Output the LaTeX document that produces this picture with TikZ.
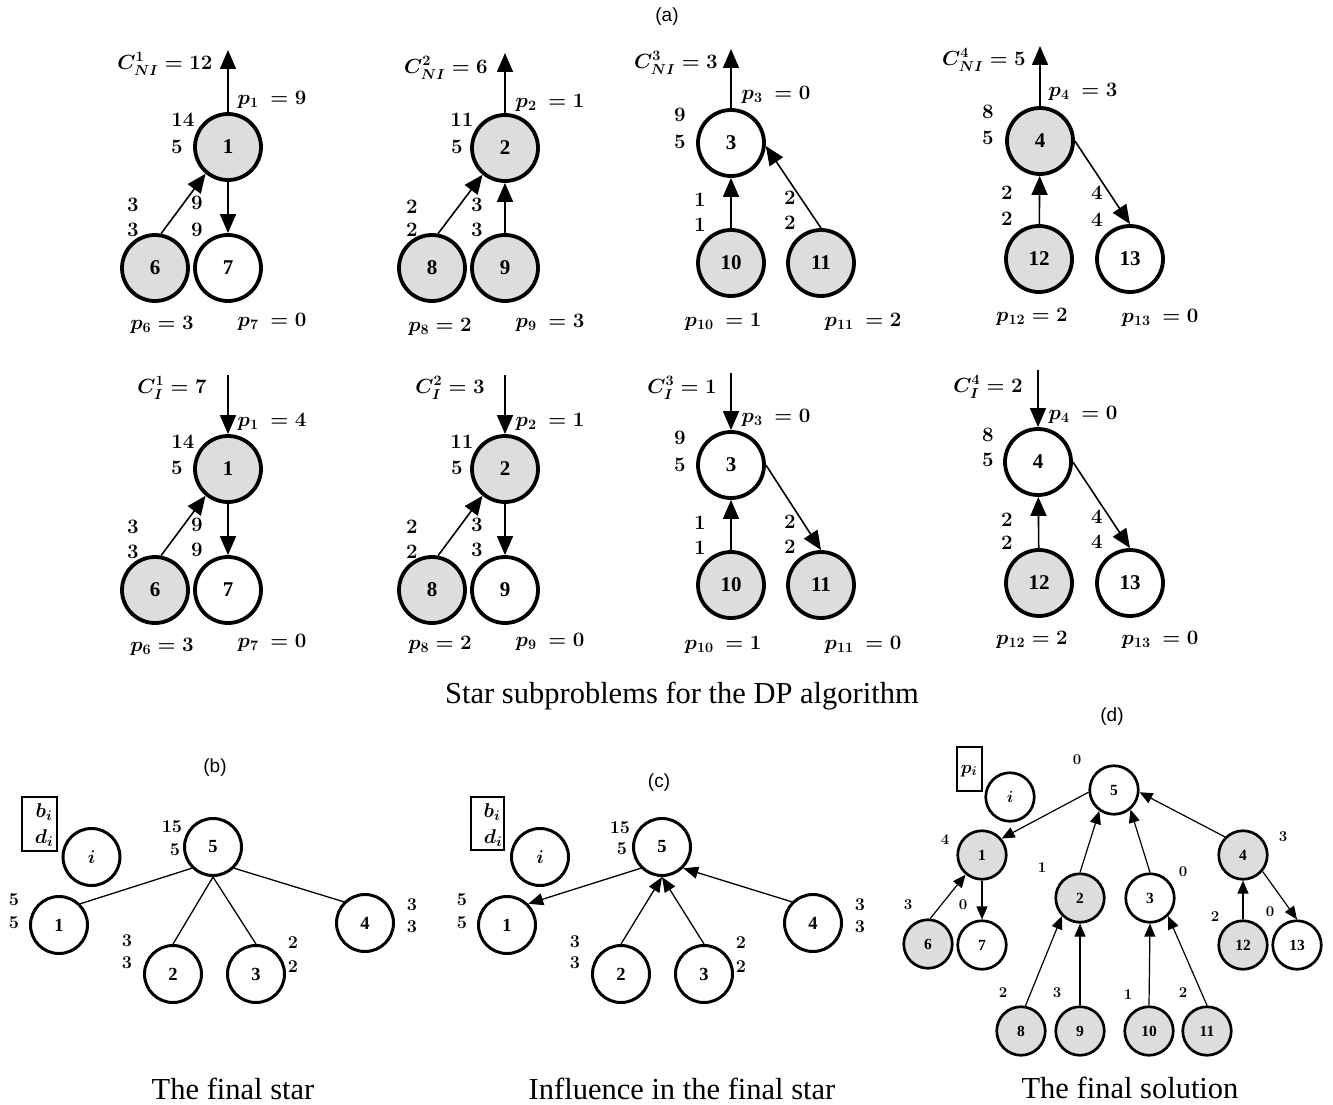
\RequirePackage{fix-cm}
\documentclass[tikz,border=0pt]{standalone}
\usepackage{amsmath,bm}
\usepackage[no-math]{fontspec}
\setmainfont{Liberation Serif}
\newfontfamily\arialf{Liberation Sans}
\usetikzlibrary{arrows.meta}
\definecolor{ngray}{RGB}{220,221,223}
\tikzset{
  ta/.style={circle,draw,line width=3.8pt,minimum size=66pt,inner sep=0pt,font=\bfseries\fontsize{21}{21}\selectfont},
  tg/.style={ta,fill=ngray},
  lb/.style={inner sep=0pt,font=\boldmath\fontsize{20.5}{20.5}\selectfont},
  ea/.style={line width=1.6pt,-{Triangle[length=19pt,width=16pt]}},
  bn/.style={circle,draw,line width=3pt,minimum size=57pt,inner sep=0pt,font=\bfseries\fontsize{18.5}{18.5}\selectfont},
  lbs/.style={inner sep=0pt,font=\boldmath\fontsize{18}{18}\selectfont},
  eb/.style={line width=1.3pt},
  ec/.style={line width=1.3pt,-{Triangle[length=15pt,width=12pt]}},
  dn/.style={circle,draw,line width=2.7pt,minimum size=48.5pt,inner sep=0pt,font=\bfseries\fontsize{15.5}{15.5}\selectfont},
  dg/.style={dn,fill=ngray},
  lbd/.style={inner sep=0pt,font=\boldmath\fontsize{15}{15}\selectfont},
  ed/.style={line width=1.2pt,-{Triangle[length=13pt,width=11pt]}},
  legbox/.style={draw,line width=2.4pt,inner sep=0pt},
  legtxt/.style={inner sep=0pt,font=\boldmath\fontsize{20}{20}\selectfont},
  captxt/.style={inner sep=0pt,anchor=base,font=\fontsize{30.5}{30.5}\selectfont},
  ttl/.style={inner sep=0pt,font=\arialf\fontsize{19}{19}\selectfont},
}
\begin{document}
\begin{tikzpicture}[x=1pt,y=-1pt]
\useasboundingbox (0,0) rectangle (1333,1105);
% ---------- titles ----------
\node[ttl] (ta) at (667,17) {(a)};
\node[captxt] (capa) at (682,703) {Star subproblems for the DP algorithm};
% ================= (a) top row =================
% panel 1
\node[tg] (t1) at (228,147) {1};
\node[tg] (t6) at (155,268) {6};
\node[ta] (t7) at (228,268) {7};
\coordinate (tp1) at (228,50);
\draw[ea] (t1.north) -- (tp1);
\draw[ea] (t6.80) -- (t1.230);
\draw[ea] (t1) -- (t7);
\node[lb] (tc1) at (165,64) {$C^{1}_{NI} = 12$};
\node[lb] (tq1) at (272,100) {$p_{1}\ = 9$};
\node[lb] (tl1a) at (183,120) {$14$};
\node[lb] (tl1b) at (177,147) {$5$};
\node[lb] (tl6a) at (133,205) {$3$};
\node[lb] (tl6b) at (133,230) {$3$};
\node[lb] (tl7a) at (197,203) {$9$};
\node[lb] (tl7b) at (197,230) {$9$};
\node[lb] (tq6) at (162,325) {$p_{6} = 3$};
\node[lb] (tq7) at (272,322) {$p_{7}\ = 0$};
% panel 2
\node[tg] (t2) at (505,148) {2};
\node[tg] (t8) at (432,268) {8};
\node[tg] (t9) at (505,268) {9};
\coordinate (tp2) at (505,53);
\draw[ea] (t2.north) -- (tp2);
\draw[ea] (t8.80) -- (t2.230);
\draw[ea] (t9) -- (t2);
\node[lb] (tc2) at (446,68) {$C^{2}_{NI} = 6$};
\node[lb] (tq2) at (550,103) {$p_{2}\ = 1$};
\node[lb] (tl2a) at (462,120) {$11$};
\node[lb] (tl2b) at (457,147) {$5$};
\node[lb] (tl8a) at (412,207) {$2$};
\node[lb] (tl8b) at (412,230) {$2$};
\node[lb] (tl9a) at (477,205) {$3$};
\node[lb] (tl9b) at (477,230) {$3$};
\node[lb] (tq8) at (440,327) {$p_{8} = 2$};
\node[lb] (tq9) at (550,323) {$p_{9}\ = 3$};
% panel 3
\node[ta] (t3) at (731,143) {3};
\node[tg] (t10) at (731,263) {10};
\node[tg] (t11) at (821,263) {11};
\coordinate (tp3) at (731,49);
\draw[ea] (t3.north) -- (tp3);
\draw[ea] (t10) -- (t3);
\draw[ea] (t11.north) -- (t3.-5);
\node[lb] (tc3) at (676,63) {$C^{3}_{NI} = 3$};
\node[lb] (tq3) at (776,95) {$p_{3}\ = 0$};
\node[lb] (tl3a) at (680,115) {$9$};
\node[lb] (tl3b) at (680,142) {$5$};
\node[lb] (tl10a) at (700,200) {$1$};
\node[lb] (tl10b) at (700,225) {$1$};
\node[lb] (tl11a) at (790,198) {$2$};
\node[lb] (tl11b) at (790,223) {$2$};
\node[lb] (tq10) at (723,322) {$p_{10}\ = 1$};
\node[lb] (tq11) at (863,322) {$p_{11}\ = 2$};
% panel 4
\node[tg] (t4) at (1040,141) {4};
\node[tg] (t12) at (1039,259) {12};
\node[ta] (t13) at (1130,259) {13};
\coordinate (tp4) at (1040,46);
\draw[ea] (t4.north) -- (tp4);
\draw[ea] (t12) -- (t4);
\draw[ea] (t4.east) -- (t13.north);
\node[lb] (tc4) at (984,60) {$C^{4}_{NI} = 5$};
\node[lb] (tq4) at (1083,92) {$p_{4}\ = 3$};
\node[lb] (tl4a) at (988,112) {$8$};
\node[lb] (tl4b) at (988,138) {$5$};
\node[lb] (tl12a) at (1007,193) {$2$};
\node[lb] (tl12b) at (1007,219) {$2$};
\node[lb] (tl13a) at (1097,193) {$4$};
\node[lb] (tl13b) at (1097,220) {$4$};
\node[lb] (tq12) at (1032,317) {$p_{12} = 2$};
\node[lb] (tq13) at (1160,318) {$p_{13}\ = 0$};
% ================= (a) bottom row =================
% panel 1
\node[tg] (u1) at (228,469) {1};
\node[tg] (u6) at (155,590) {6};
\node[ta] (u7) at (228,590) {7};
\coordinate (up1) at (228,375);
\draw[ea] (up1) -- (u1.north);
\draw[ea] (u6.80) -- (u1.230);
\draw[ea] (u1) -- (u7);
\node[lb] (uc1) at (172,388) {$C^{1}_{I} = 7$};
\node[lb] (uq1) at (272,422) {$p_{1}\ = 4$};
\node[lb] (ul1a) at (183,442) {$14$};
\node[lb] (ul1b) at (177,468) {$5$};
\node[lb] (ul6a) at (133,527) {$3$};
\node[lb] (ul6b) at (133,552) {$3$};
\node[lb] (ul7a) at (197,525) {$9$};
\node[lb] (ul7b) at (197,550) {$9$};
\node[lb] (uq6) at (162,647) {$p_{6} = 3$};
\node[lb] (uq7) at (272,643) {$p_{7}\ = 0$};
% panel 2
\node[tg] (u2) at (505,469) {2};
\node[tg] (u8) at (432,590) {8};
\node[ta] (u9) at (505,590) {9};
\coordinate (up2) at (505,375);
\draw[ea] (up2) -- (u2.north);
\draw[ea] (u8.80) -- (u2.230);
\draw[ea] (u2) -- (u9);
\node[lb] (uc2) at (450,388) {$C^{2}_{I} = 3$};
\node[lb] (uq2) at (550,422) {$p_{2}\ = 1$};
\node[lb] (ul2a) at (462,442) {$11$};
\node[lb] (ul2b) at (457,468) {$5$};
\node[lb] (ul8a) at (412,527) {$2$};
\node[lb] (ul8b) at (412,552) {$2$};
\node[lb] (ul9a) at (477,525) {$3$};
\node[lb] (ul9b) at (477,550) {$3$};
\node[lb] (uq8) at (440,645) {$p_{8} = 2$};
\node[lb] (uq9) at (550,642) {$p_{9}\ = 0$};
% panel 3
\node[ta] (u3) at (731,465) {3};
\node[tg] (u10) at (731,585) {10};
\node[tg] (u11) at (821,585) {11};
\coordinate (up3) at (731,373);
\draw[ea] (up3) -- (u3.north);
\draw[ea] (u10) -- (u3);
\draw[ea] (u3.east) -- (u11.north);
\node[lb] (uc3) at (682,388) {$C^{3}_{I} = 1$};
\node[lb] (uq3) at (776,418) {$p_{3}\ = 0$};
\node[lb] (ul3a) at (680,438) {$9$};
\node[lb] (ul3b) at (680,465) {$5$};
\node[lb] (ul10a) at (700,523) {$1$};
\node[lb] (ul10b) at (700,548) {$1$};
\node[lb] (ul11a) at (790,522) {$2$};
\node[lb] (ul11b) at (790,547) {$2$};
\node[lb] (uq10) at (723,645) {$p_{10}\ = 1$};
\node[lb] (uq11) at (863,645) {$p_{11}\ = 0$};
% panel 4
\node[ta] (u4) at (1038,462) {4};
\node[tg] (u12) at (1039,583) {12};
\node[ta] (u13) at (1130,583) {13};
\coordinate (up4) at (1038,370);
\draw[ea] (up4) -- (u4.north);
\draw[ea] (u12) -- (u4);
\draw[ea] (u4.east) -- (u13.north);
\node[lb] (uc4) at (988,387) {$C^{4}_{I} = 2$};
\node[lb] (uq4) at (1083,415) {$p_{4}\ = 0$};
\node[lb] (ul4a) at (988,435) {$8$};
\node[lb] (ul4b) at (988,460) {$5$};
\node[lb] (ul12a) at (1007,520) {$2$};
\node[lb] (ul12b) at (1007,543) {$2$};
\node[lb] (ul13a) at (1097,517) {$4$};
\node[lb] (ul13b) at (1097,542) {$4$};
\node[lb] (uq12) at (1032,640) {$p_{12} = 2$};
\node[lb] (uq13) at (1160,640) {$p_{13}\ = 0$};
% ================= (b) =================
\node[ttl] (tb) at (215,768) {(b)};
\node[legbox,minimum width=35pt,minimum height=54pt] (bbox) at (39.5,824) {};
\node[legtxt] (bbl) at (44,812) {$b_{i}$};
\node[legtxt] (bdl) at (44,838) {$d_{i}$};
\node[bn] (bi) at (91.5,857) {$\boldsymbol{i}$};
\node[bn] (b5) at (213,847) {5};
\node[bn] (b1) at (59,925) {1};
\node[bn] (b2) at (173,974) {2};
\node[bn] (b3) at (256,974) {3};
\node[bn] (b4) at (365,923) {4};
\draw[eb] (b5.225) -- (b1.45);
\draw[eb] (b5.south) -- (b2.north);
\draw[eb] (b5.south) -- (b3.north);
\draw[eb] (b5.-45) -- (b4.135);
\node[lbs] (bl5a) at (172,827) {$15$};
\node[lbs] (bl5b) at (175,850) {$5$};
\node[lbs] (bl1a) at (14,900) {$5$};
\node[lbs] (bl1b) at (14,923) {$5$};
\node[lbs] (bl2a) at (127,941) {$3$};
\node[lbs] (bl2b) at (127,963) {$3$};
\node[lbs] (bl3a) at (293,943) {$2$};
\node[lbs] (bl3b) at (293,967) {$2$};
\node[lbs] (bl4a) at (412,905) {$3$};
\node[lbs] (bl4b) at (412,927) {$3$};
\node[captxt] (capb) at (233,1099) {The final star};
% ================= (c) =================
\node[ttl] (tcc) at (659,783) {(c)};
\node[legbox,minimum width=33pt,minimum height=53pt] (cbox) at (487.5,823.5) {};
\node[legtxt] (cbl) at (492,812) {$b_{i}$};
\node[legtxt] (cdl) at (493,838) {$d_{i}$};
\node[bn] (ci) at (540,857) {$\boldsymbol{i}$};
\node[bn] (c5) at (662,847) {5};
\node[bn] (c1) at (507,925) {1};
\node[bn] (c2) at (621,974) {2};
\node[bn] (c3) at (704,974) {3};
\node[bn] (c4) at (813,923) {4};
\draw[ec] (c5.225) -- (c1.45);
\draw[ec] (c2.north) -- (c5.south);
\draw[ec] (c3.north) -- (c5.south);
\draw[ec] (c4.135) -- (c5.-45);
\node[lbs] (cl5a) at (620,828) {$15$};
\node[lbs] (cl5b) at (622,849) {$5$};
\node[lbs] (cl1a) at (462,900) {$5$};
\node[lbs] (cl1b) at (462,923) {$5$};
\node[lbs] (cl2a) at (575,942) {$3$};
\node[lbs] (cl2b) at (575,963) {$3$};
\node[lbs] (cl3a) at (741,943) {$2$};
\node[lbs] (cl3b) at (741,967) {$2$};
\node[lbs] (cl4a) at (860,905) {$3$};
\node[lbs] (cl4b) at (860,927) {$3$};
\node[captxt] (capc) at (682,1099) {Influence in the final star};
% ================= (d) =================
\node[ttl] (td) at (1112,717) {(d)};
\node[legbox,line width=2pt,minimum width=25pt,minimum height=44pt] (dbox) at (969.5,769) {};
\node[legtxt,font=\boldmath\fontsize{18}{18}\selectfont] (dpl) at (969,771) {$p_{i}$};
\node[dn,font=\fontsize{16}{16}\selectfont] (di) at (1010,797) {$\boldsymbol{i}$};
\node[dn] (d5) at (1114,790) {5};
\node[dg] (d1) at (982,855) {1};
\node[dg] (d2) at (1080,898) {2};
\node[dn] (d3) at (1150,898) {3};
\node[dg] (d4) at (1243,855) {4};
\node[dg] (d6) at (928,944) {6};
\node[dn] (d7) at (982,945) {7};
\node[dg] (d12) at (1243,945) {12};
\node[dn] (d13) at (1297,945) {13};
\node[dg] (d8) at (1021,1031) {8};
\node[dg] (d9) at (1080,1031) {9};
\node[dg] (d10) at (1149,1031) {10};
\node[dg] (d11) at (1207,1031) {11};
\draw[ed] (d5.185) -- (d1.40);
\draw[ed] (d2.north) -- (d5.235);
\draw[ed] (d3.north) -- (d5.-50);
\draw[ed] (d4.135) -- (d5.-5);
\draw[ed] (d6.85) -- (d1.230);
\draw[ed] (d1.south) -- (d7.north);
\draw[ed] (d8.80) -- (d2.225);
\draw[ed] (d9.north) -- (d2.south);
\draw[ed] (d10.north) -- (d3.south);
\draw[ed] (d11.north) -- (d3.-45);
\draw[ed] (d12.north) -- (d4.south);
\draw[ed] (d4.-40) -- (d13.north);
\node[lbd] (dl5) at (1077,760) {$0$};
\node[lbd] (dl1) at (945,840) {$4$};
\node[lbd] (dl2) at (1042,868) {$1$};
\node[lbd] (dl3) at (1183,872) {$0$};
\node[lbd] (dl4) at (1283,837) {$3$};
\node[lbd] (dl6) at (908,905) {$3$};
\node[lbd] (dl7) at (963,905) {$0$};
\node[lbd] (dl12) at (1215,917) {$2$};
\node[lbd] (dl13) at (1270,912) {$0$};
\node[lbd] (dl8) at (1003,993) {$2$};
\node[lbd] (dl9) at (1057,993) {$3$};
\node[lbd] (dl10) at (1128,995) {$1$};
\node[lbd] (dl11) at (1183,993) {$2$};
\node[captxt] (capd) at (1130,1098) {The final solution};
\end{tikzpicture}
\end{document}
